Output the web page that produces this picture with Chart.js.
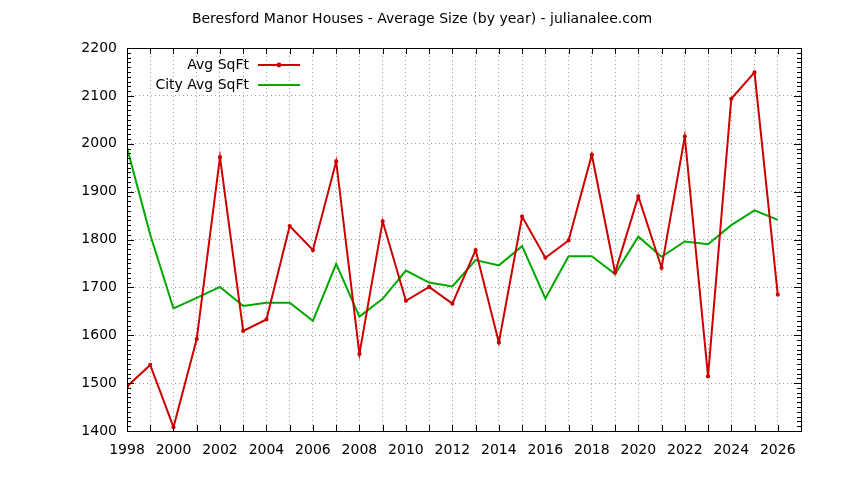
<!DOCTYPE html>
<html>
<head>
<meta charset="utf-8">
<script src="https://cdn.jsdelivr.net/npm/chart.js@4"></script>
<style>
html,body{margin:0;padding:0;background:#fff;}
#c{display:block;}
</style>
</head>
<body>
<canvas id="c" width="844" height="480"></canvas>
<script>
const years = [1998,1999,2000,2001,2002,2003,2004,2005,2006,2007,2008,2009,2010,2011,2012,2013,2014,2015,2016,2017,2018,2019,2020,2021,2022,2023,2024,2025,2026];
const avgSqFt = [1493,1538,1408,1592,1972,1609,1633,1828,1778,1963,1561,1838,1672,1701,1666,1778,1585,1848,1762,1798,1977,1731,1890,1741,2015,1514,2094,2149,1685];
const cityAvgSqFt = [1992,1810,1656,1678,1701,1661,1668,1668,1630,1749,1639,1676,1735,1710,1702,1757,1746,1786,1677,1765,1765,1728,1806,1764,1796,1790,1830,1861,1841];
const seriesNames = ['Avg SqFt','City Avg SqFt'];
const titleText = 'Beresford Manor Houses - Average Size (by year) - julianalee.com';
const xMin = 1998, xMax = 2027, yMin = 1400, yMax = 2200;

const FONT = '"DejaVu Sans", Verdana, sans-serif';
const RED = '#cc0000', GREEN = '#00a800';

const deco = {
  id: 'deco',
  afterDraw(chart) {
    const {ctx, chartArea: a, scales: {x, y}} = chart;
    ctx.save();
    ctx.strokeStyle = '#000';
    ctx.lineWidth = 1;
    ctx.beginPath();
    for (let v = yMin; v <= yMax; v += 10) {
      const py = Math.round(y.getPixelForValue(v)) + 0.5;
      const len = (v % 100 === 0) ? 7 : 4;
      ctx.moveTo(a.left, py); ctx.lineTo(a.left + len, py);
      ctx.moveTo(a.right, py); ctx.lineTo(a.right - len, py);
    }
    for (let v = xMin; v <= xMax; v += 1) {
      const px = Math.round(x.getPixelForValue(v)) + 0.5;
      ctx.moveTo(px, a.bottom); ctx.lineTo(px, a.bottom - 6);
      ctx.moveTo(px, a.top); ctx.lineTo(px, a.top + 6);
    }
    ctx.stroke();
    ctx.strokeRect(Math.round(a.left) + 0.5, Math.round(a.top) + 0.5, Math.round(a.right - a.left), Math.round(a.bottom - a.top));
    ctx.fillStyle = '#000';
    ctx.font = '14px ' + FONT;
    ctx.textAlign = 'center';
    ctx.textBaseline = 'middle';
    ctx.fillText(titleText, 422, 19);
    ctx.textAlign = 'right';
    const rows = [{t: seriesNames[0], c: RED, pt: true, y: 65}, {t: seriesNames[1], c: GREEN, pt: false, y: 85}];
    rows.forEach(r => {
      ctx.fillStyle = '#000';
      ctx.fillText(r.t, 249, r.y);
      ctx.strokeStyle = r.c;
      ctx.lineWidth = 2;
      ctx.beginPath(); ctx.moveTo(258, r.y); ctx.lineTo(300, r.y); ctx.stroke();
      if (r.pt) { ctx.fillStyle = r.c; ctx.beginPath(); ctx.arc(279, r.y, 2.4, 0, Math.PI * 2); ctx.fill(); }
    });
    ctx.restore();
  }
};

new Chart(document.getElementById('c'), {
  type: 'line',
  data: {
    datasets: [
      {label: seriesNames[0], data: years.map((yr, i) => ({x: yr, y: avgSqFt[i]})), borderColor: RED, backgroundColor: RED, borderWidth: 2, pointRadius: 1.5, pointBorderWidth: 1.2, pointHoverRadius: 1.5, tension: 0},
      {label: seriesNames[1], data: years.map((yr, i) => ({x: yr, y: cityAvgSqFt[i]})), borderColor: GREEN, backgroundColor: GREEN, borderWidth: 2, pointRadius: 0, tension: 0}
    ]
  },
  options: {
    responsive: false,
    animation: false,
    devicePixelRatio: 1,
    layout: {padding: {left: 0, right: 43, top: 48, bottom: 0}},
    plugins: {legend: {display: false}, title: {display: false}, tooltip: {enabled: false}},
    scales: {
      x: {
        type: 'linear', min: xMin, max: xMax,
        afterFit: s => { s.height = 49; },
        ticks: {stepSize: 1, autoSkip: false, maxRotation: 0, padding: 11, color: '#000', font: {family: FONT, size: 14},
          callback: v => (v % 2 === 0 && v <= 2026) ? String(v) : ''},
        grid: {drawTicks: false, color: '#a0a0a0', lineWidth: 1},
        border: {display: false, dash: [1, 3]}
      },
      y: {
        type: 'linear', min: yMin, max: yMax,
        afterFit: s => { s.width = 127; },
        ticks: {stepSize: 10, autoSkip: false, padding: 10, color: '#000', font: {family: FONT, size: 14},
          callback: v => (v % 100 === 0) ? String(v) : ''},
        grid: {drawTicks: false, lineWidth: 1, color: c => (c.tick && c.tick.value % 100 === 0) ? '#a0a0a0' : 'rgba(0,0,0,0)'},
        border: {display: false, dash: [1, 3]}
      }
    }
  },
  plugins: [deco]
});
</script>
</body>
</html>
